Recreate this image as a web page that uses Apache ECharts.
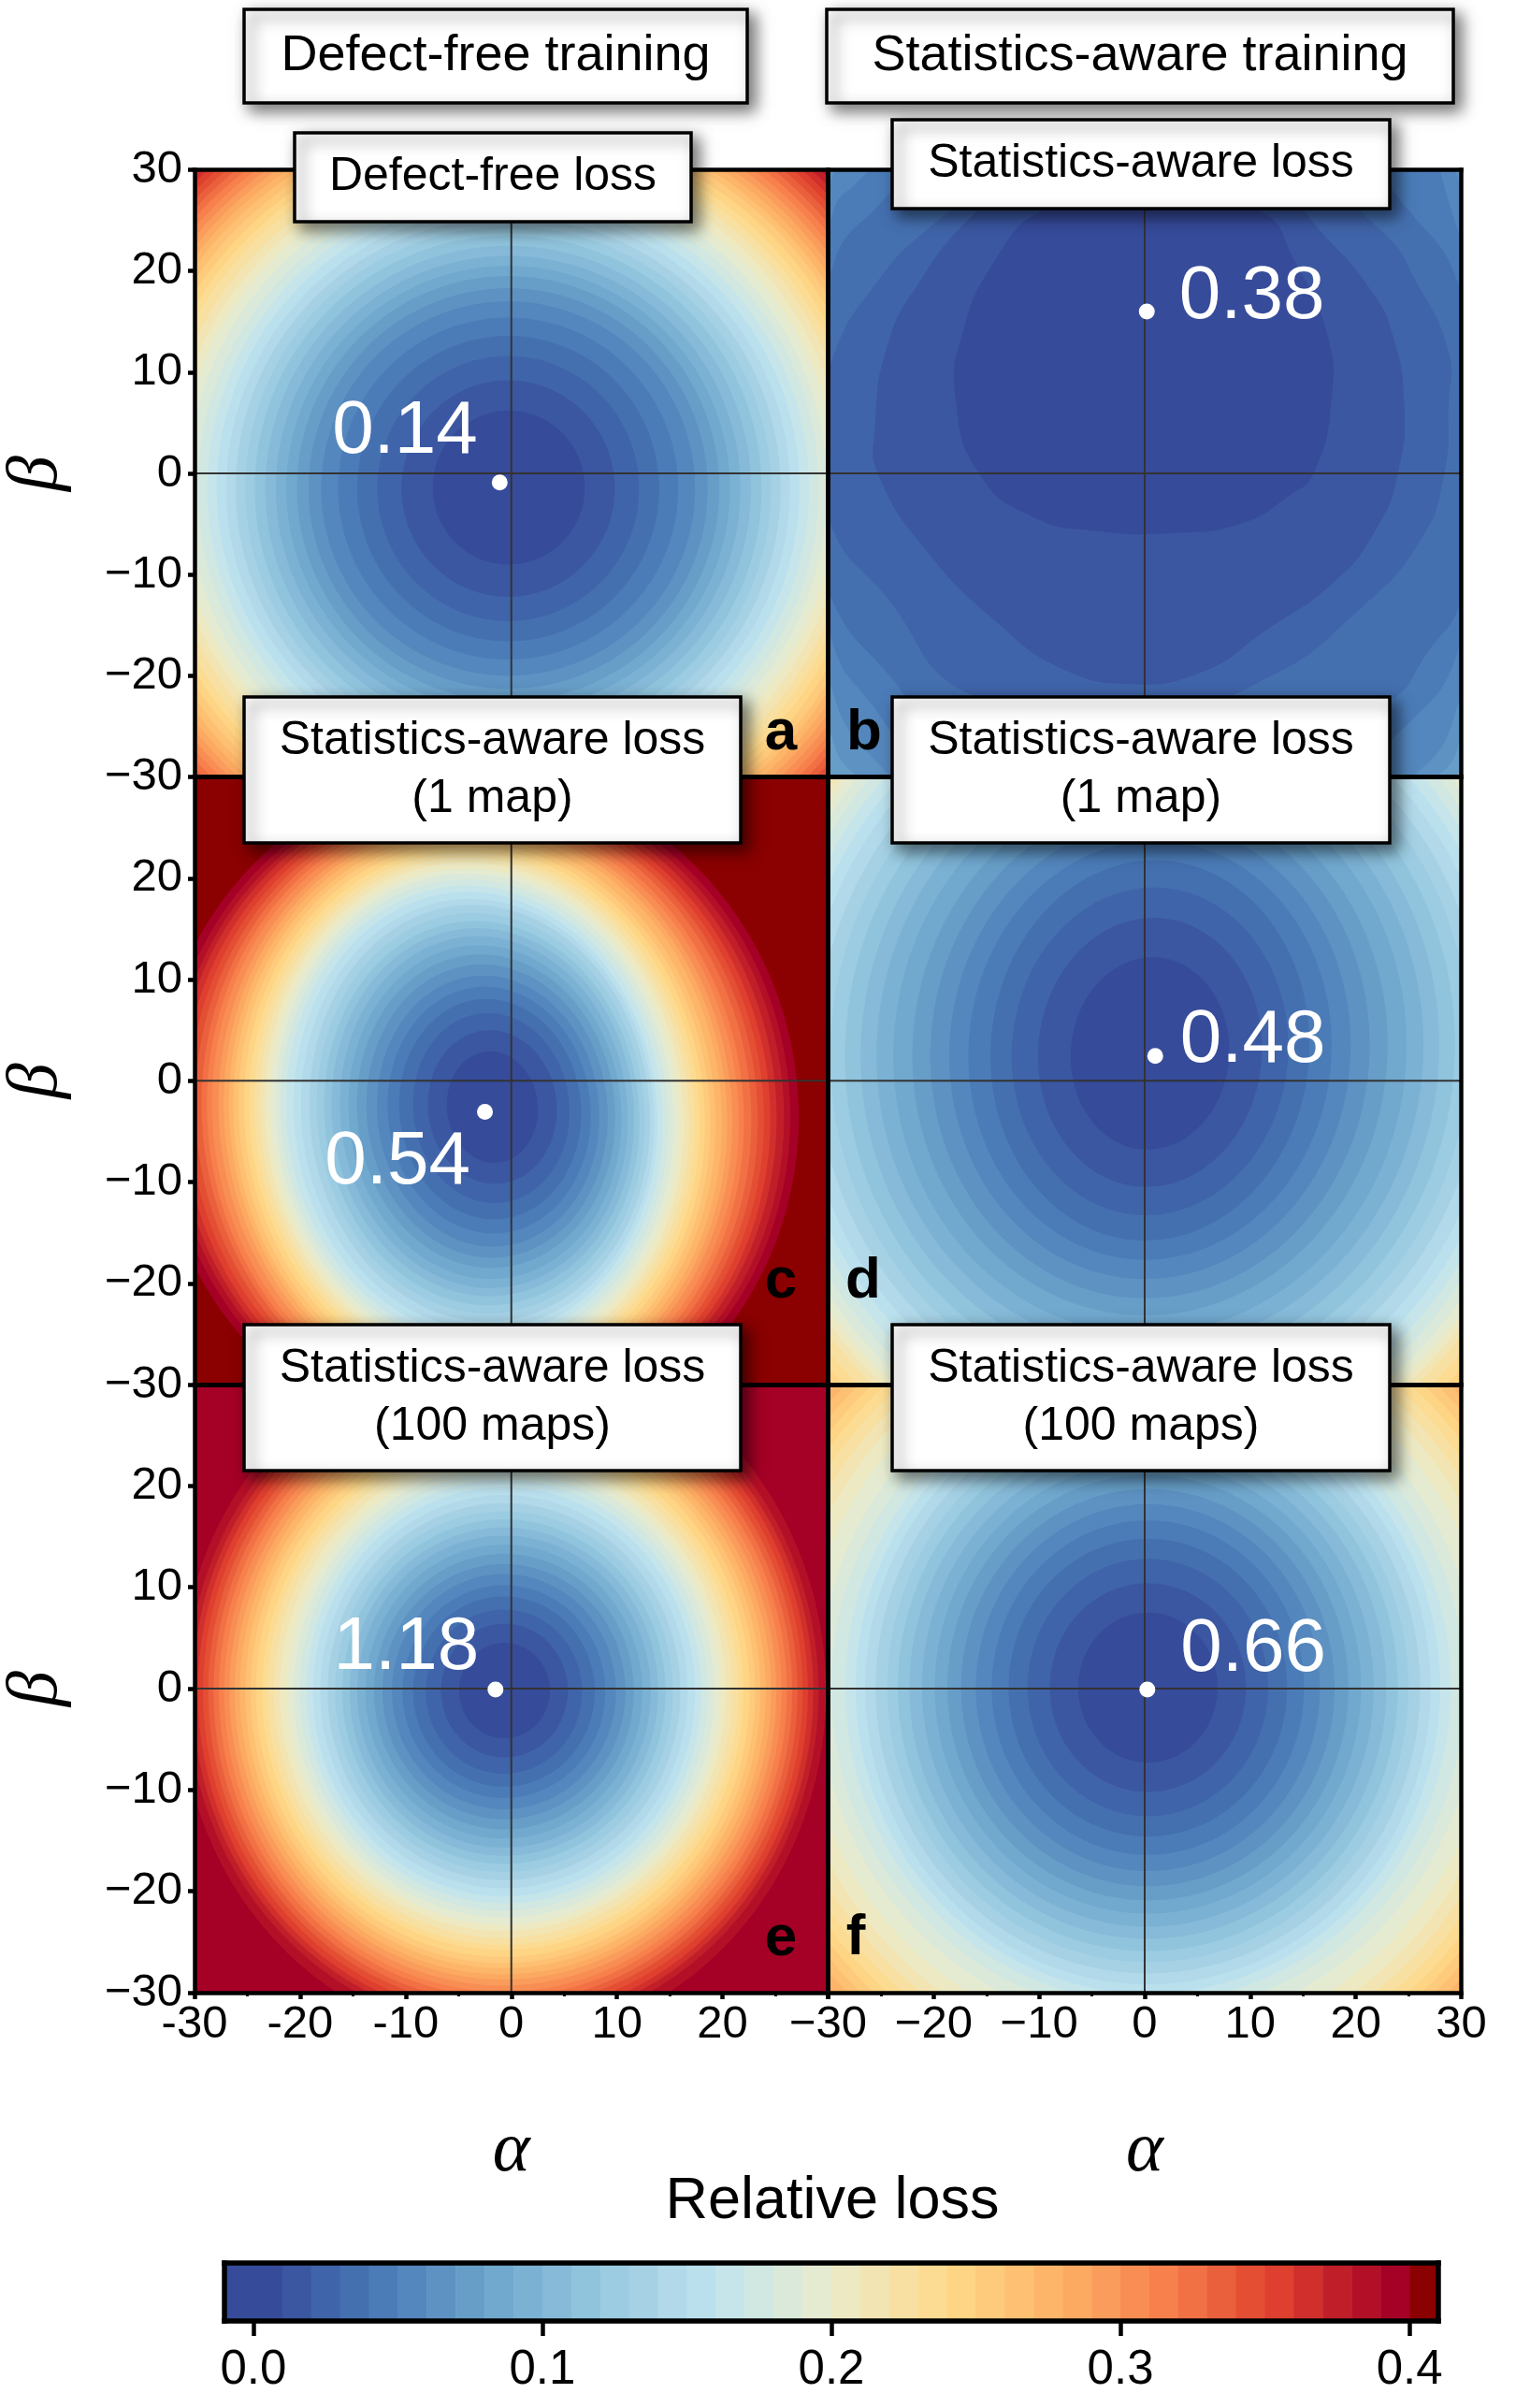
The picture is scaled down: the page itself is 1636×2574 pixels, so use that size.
<!DOCTYPE html>
<html>
<head>
<meta charset="utf-8">
<title>Relative loss landscapes</title>
<script src="https://cdn.jsdelivr.net/npm/echarts@6/dist/echarts.min.js"></script>
<style>
html, body { margin: 0; padding: 0; background: #fff; }
#main { width: 1636px; height: 2574px; }
</style>
</head>
<body>
<div id="main"></div>
<script>
// colours of the bands 0.00-0.01 ... 0.39-0.40
var bandColors = ['#364B9A','#3B57A1','#4064A9','#4570B0','#4B7CB8','#5487BD','#5D92C2','#679EC8','#70A8CE','#7BB1D3',
    '#86BAD8','#90C4DD','#9BCCE2','#A6D1E5','#B1D9E9','#BBE0ED','#C6E5EB','#D0E7E2','#DAE9DA','#E5EBD1',
    '#EDEAC3','#F2E5B3','#F7E0A2','#FCDC92','#FED485','#FECA7C','#FEC072','#FDB669','#FCAA62','#FA9C5C',
    '#F88E53','#F7804C','#F17145','#EA603D','#E44F34','#DE3F2E','#D02F2B','#C01F29','#B31028','#A50026'];
var overColor = '#8B0000';

var axisRange = [-30, 30];
var colorbarTicks = [0, 0.1, 0.2, 0.3, 0.4];
// lower edge, upper edge, colour
var colorbarEdges = [-0.01,0.01,0.02,0.03,0.04,0.05,0.06,0.07,0.08,0.09,0.10,0.11,0.12,0.13,0.14,0.15,0.16,0.17,0.18,0.19,0.20,
    0.21,0.22,0.23,0.24,0.25,0.26,0.27,0.28,0.29,0.30,0.31,0.32,0.33,0.34,0.35,0.36,0.37,0.38,0.39,0.40,0.41];

// contours: level, centre alpha, centre beta, half width, half height
var contoursA = [
    [0.01,-0.25,-1.4,7.2,7.6],[0.02,-0.3,-1.5,10.1,10.7],[0.03,-0.3,-1.5,12.4,13.1],[0.04,-0.3,-1.5,14.3,15.1],[0.05,-0.3,-1.5,16.1,16.9],
    [0.06,-0.3,-1.5,17.7,18.5],[0.07,-0.3,-1.5,18.9,19.8],[0.08,-0.3,-1.5,20,21],[0.09,-0.3,-1.5,21,22],[0.10,-0.3,-1.5,22,23],
    [0.11,-0.3,-1.5,23,24],[0.12,-0.3,-1.5,24,25],[0.13,-0.3,-1.5,24.9,25.9],[0.14,-0.3,-1.5,25.8,26.8],[0.15,-0.3,-1.5,26.7,27.7],
    [0.16,-0.3,-1.5,27.6,28.6],[0.17,-0.3,-1.5,28.5,29.5],[0.18,-0.3,-1.5,29.4,30.4],[0.19,-0.4,-1.5,30.3,31.3],[0.20,-0.4,-1.5,31.2,32.2],
    [0.21,-0.4,-1.5,32,33],[0.22,-0.4,-1.5,32.8,33.8],[0.23,-0.5,-1.5,33.6,34.6],[0.24,-0.5,-1.5,34.3,35.3],[0.25,-0.5,-1.5,35,36],
    [0.26,-0.5,-1.5,35.7,36.7],[0.27,-0.6,-1.5,36.3,37.3],[0.28,-0.6,-1.5,36.9,37.9],[0.29,-0.6,-1.5,37.5,38.5],[0.30,-0.6,-1.5,38.1,39.1],
    [0.31,-0.6,-1.5,38.7,39.7],[0.32,-0.6,-1.5,39.3,40.3],[0.33,-0.6,-1.5,39.9,40.9],[0.34,-0.6,-1.5,40.5,41.5],[0.35,-0.6,-1.5,41.1,42.1],
    [0.36,-0.6,-1.5,41.7,42.7],[0.37,-0.6,-1.5,42.3,43.3],[0.38,-0.6,-1.5,42.9,43.9],[0.39,-0.6,-1.5,43.5,44.5]
];
var contoursC = [
    [0.01,-1.8,-2.6,4.3,5.5],[0.02,-1.8,-2.6,6.1,7.6],[0.03,-1.9,-2.7,7.4,9.4],[0.04,-2,-2.8,8.6,10.9],[0.05,-2.1,-2.9,9.6,12.2],
    [0.06,-2.2,-3,10.5,13.4],[0.07,-2.3,-3,11.4,14.5],[0.08,-2.4,-3,12.2,15.5],[0.09,-2.5,-3.1,12.9,16.5],[0.10,-2.6,-3.1,13.6,17.4],
    [0.11,-2.7,-3.1,14.3,18.2],[0.12,-2.8,-3.2,14.9,19],[0.13,-2.9,-3.2,15.5,19.8],[0.14,-3,-3.2,16.1,20.6],[0.15,-3.2,-3.3,16.7,21.3],
    [0.16,-3.4,-3.3,17.2,22],[0.17,-3.5,-3.3,17.8,22.6],[0.18,-3.5,-3.3,18.3,23.2],[0.19,-3.5,-3.3,18.8,23.8],[0.20,-3.5,-3.3,19.3,24.3],
    [0.21,-3.5,-3.3,19.8,24.9],[0.22,-3.5,-3.3,20.3,25.4],[0.23,-3.5,-3.3,20.8,25.9],[0.24,-3.5,-3.3,21.3,26.4],[0.25,-3.5,-3.3,21.8,26.9],
    [0.26,-3.5,-3.3,22.3,27.4],[0.27,-3.5,-3.3,22.8,27.8],[0.28,-3.4,-3.2,23.3,28.3],[0.29,-3.4,-3.2,23.8,28.7],[0.30,-3.4,-3.2,24.3,29.1],
    [0.31,-3.4,-3.2,24.9,29.6],[0.32,-3.4,-3.2,25.4,30],[0.33,-3.3,-3.1,26,30.4],[0.34,-3.3,-3.1,26.6,30.8],[0.35,-3.3,-3.1,27.2,31.2],
    [0.36,-3.3,-3.1,27.8,31.6],[0.37,-3.3,-3,28.4,32],[0.38,-3.2,-3,29,32.4],[0.39,-3.2,-3,29.6,32.9],[0.40,-3.2,-3,30.4,33.5]
];
var contoursD = [
    [0.01,0.5,2.7,7.5,9.5],[0.02,0.5,2.8,10.6,13.3],[0.03,0.5,2.9,13.1,16.2],[0.04,0.5,3,15.1,18.8],[0.05,0.5,3,17.2,20.7],
    [0.06,0.5,3,19,22.6],[0.07,0.5,3,20.8,24.5],[0.08,0.5,3,22.5,26.2],[0.09,0.5,3,24.3,28],[0.10,0.5,3,25.9,29.6],
    [0.11,0.5,3,27.4,31.2],[0.12,0.5,3,28.9,32.8],[0.13,0.5,3,30.3,34.2],[0.14,0.5,3,31.6,35.6],[0.15,0.5,3,32.9,37],
    [0.16,0.5,3,34,38.2],[0.17,0.5,3,35,39.4],[0.18,0.5,3,36,40.5],[0.19,0.5,3,37,41.5],[0.20,0.5,3,37.8,42.4],
    [0.21,0.5,3,38.4,43.2],[0.22,0.5,3,39,44],[0.23,0.5,3,40,45],[0.24,0.5,3,41,46],[0.25,0.5,3,42,47],[0.26,0.5,3,43,48]
];
var contoursE = [
    [0.01,-0.65,-0.2,4.3,4.7],[0.02,-0.65,-0.2,6,6.6],[0.03,-0.7,-0.3,7.4,8.1],[0.04,-0.7,-0.3,8.6,9.4],[0.05,-0.7,-0.3,9.6,10.5],
    [0.06,-0.7,-0.3,10.6,11.6],[0.07,-0.7,-0.3,11.5,12.6],[0.08,-0.7,-0.3,12.3,13.6],[0.09,-0.7,-0.3,13.1,14.5],[0.10,-0.7,-0.3,13.9,15.4],
    [0.11,-0.7,-0.3,14.6,16.2],[0.12,-0.7,-0.3,15.3,17],[0.13,-0.7,-0.3,16,17.8],[0.14,-0.7,-0.3,16.7,18.6],[0.15,-0.7,-0.3,17.4,19.4],
    [0.16,-0.7,-0.3,18.1,20.2],[0.17,-0.7,-0.3,18.7,20.9],[0.18,-0.7,-0.3,19.3,21.6],[0.19,-0.7,-0.3,19.9,22.3],[0.20,-0.7,-0.3,20.5,23],
    [0.21,-0.8,-0.3,21.1,23.6],[0.22,-0.8,-0.3,21.7,24.3],[0.23,-0.8,-0.3,22.3,25],[0.24,-0.8,-0.3,22.8,25.5],[0.25,-0.8,-0.3,23.4,26.2],
    [0.26,-0.8,-0.3,23.9,26.8],[0.27,-0.8,-0.3,24.4,27.3],[0.28,-0.8,-0.3,24.9,27.9],[0.29,-0.8,-0.3,25.4,28.4],[0.30,-0.8,-0.3,25.9,29],
    [0.31,-0.8,-0.3,26.4,29.6],[0.32,-0.8,-0.3,26.9,30.1],[0.33,-0.8,-0.3,27.4,30.7],[0.34,-0.8,-0.3,27.9,31.2],[0.35,-0.8,-0.3,28.4,31.8],
    [0.36,-0.8,-0.3,28.9,32.4],[0.37,-0.8,-0.3,29.4,32.9],[0.38,-0.8,-0.3,29.9,33.5],[0.39,-0.8,-0.3,30.6,34.6]
];
var contoursF = [
    [0.01,0.3,0.1,6.6,7.4],[0.02,0.3,0.1,9.3,10.3],[0.03,0.3,0.1,11.4,12.7],[0.04,0.3,0.1,13.2,14.7],[0.05,0.3,0.1,14.8,16.5],
    [0.06,0.3,0.1,16.3,18.1],[0.07,0.3,0.1,17.7,19.6],[0.08,0.3,0.1,19,21],[0.09,0.3,0.1,20.2,22.3],[0.10,0.3,0.1,21.4,23.6],
    [0.11,0.3,0.1,22.6,24.8],[0.12,0.3,0.1,23.7,26],[0.13,0.3,0.1,24.7,27.1],[0.14,0.3,0.1,25.8,28.2],[0.15,0.3,0.1,26.8,29.3],
    [0.16,0.3,0.1,27.7,30.2],[0.17,0.3,0.1,28.7,31.1],[0.18,0.3,0.1,30,32.2],[0.19,0.3,0.1,31.2,33.6],[0.20,0.3,0.1,32.8,35.2],
    [0.21,0.3,0.1,34.2,36.6],[0.22,0.3,0.1,35.4,37.8],[0.23,0.3,0.1,36.5,38.9],[0.24,0.3,0.1,37.5,39.9],[0.25,0.3,0.1,38.4,40.8],
    [0.26,0.3,0.1,39.3,41.7],[0.27,0.3,0.1,40.2,42.6],[0.28,0.3,0.1,41.1,43.5],[0.29,0.3,0.1,42,44.4]
];
// panel b has no elliptical contours, so its outlines are read point by point
var contourLevelsB = [0.01,0.02,0.03,0.04,0.05,0.06,0.07,0.08];
var outlinesB = [
    [[-15.7,0],[-17.9,7.3],[-17.3,13.7],[-14.2,21],[-9.8,25.9],[0,29],[11,25.9],[14.2,21],[17.3,13.7],[17.7,7.3],[16,0],[13.7,-2.2],[9.3,-4.9],[2.7,-5.9],[-4.4,-5.7],[-10.6,-4.3]],
    [[-25.3,0],[-25.6,4.1],[-24.4,12.6],[-21.3,19],[-16.4,25.4],[-8,33],[8,33],[17.3,23.2],[21.5,18],[23.5,13.7],[24.6,6.8],[24,0],[22,-5.4],[18,-10.7],[11.5,-15.5],[5.3,-19.7],[-1.8,-20.8],[-8,-19.2],[-13.7,-15],[-20.8,-7.5]],
    [[-29.5,-5.7],[-31,3],[-29.5,11.6],[-25.3,19],[-20.4,24.3],[-15,28],[-5,34],[10,34],[22.6,23.8],[25.7,19],[28.8,12],[28.8,6.8],[28.4,0],[26.2,-6.5],[20.4,-13.4],[11.5,-20.3],[0,-24],[-16.4,-21.9],[-24.8,-11.8]],
    [[-29.5,-12.8],[-33,0],[-29.5,20.6],[-25.3,26.4],[-18,33],[15,36],[25,26],[30,18],[32,5],[30,-12.3],[26.6,-18],[23.4,-22.4],[10,-30],[-16,-30],[-24,-20.2]],
    [[-29.5,-17],[-34,3],[-29.5,25.9],[-27.5,28.5],[-20,35],[22,36],[30,23.2],[34,5],[30,-16.5],[25,-24.7],[10,-36],[-15,-36],[-26.2,-22.4]],
    [[-29.5,-21.8],[-35,3],[-29.5,29.6],[-24,36],[24,36],[30,28.3],[36,5],[30,-21.8],[25.3,-30],[10,-38],[-15,-38],[-25.3,-28.6]],
    [[-29.5,-26.5],[-37,3],[-32,34],[32,34],[38,3],[30,-26],[27.5,-30],[10,-40],[-15,-40],[-27.5,-29.7]],
    [[-30,-29.5],[-38,3],[-34,36],[34,36],[40,3],[30,-29],[20,-40],[-20,-40]]
];
var contoursB = contourLevelsB.map(function (l) { return [l]; });

// position of the minimum and the value printed next to it
var minimumA = [[-1.1,-0.9,'0.14']];
var minimumB = [[0.2,16,'0.38']];
var minimumC = [[-2.5,-3.07,'0.54']];
var minimumD = [[1,2.45,'0.48']];
var minimumE = [[-1.5,-0.1,'1.18']];
var minimumF = [[0.25,-0.1,'0.66']];
var crossAlpha = [[-30,0],[30,0]];
var crossBeta = [[0,-30],[0,30]];

var panels = [
    {contours: contoursA, minimum: minimumA, base: bandColors[39], tilt: 0, col: 0, row: 0, pos: 'left', dist: 15, dy: -54},
    {contours: contoursB, outlines: outlinesB, minimum: minimumB, base: bandColors[8], tilt: 0, col: 1, row: 0, pos: 'right', dist: 26, dy: -15},
    {contours: contoursC, minimum: minimumC, base: overColor, tilt: 5, col: 0, row: 1, pos: 'left', dist: 7, dy: 54},
    {contours: contoursD, minimum: minimumD, base: bandColors[26], tilt: -4, col: 1, row: 1, pos: 'right', dist: 18, dy: -16},
    {contours: contoursE, minimum: minimumE, base: bandColors[39], tilt: 0, col: 0, row: 2, pos: 'left', dist: 9, dy: -44},
    {contours: contoursF, minimum: minimumF, base: bandColors[29], tilt: 0, col: 1, row: 2, pos: 'right', dist: 27, dy: -42}
];

var sansFont = '"Liberation Sans", Arial, sans-serif';
var colEdges = [208, 885.5, 1562.5];
var rowEdges = [181.5, 830.5, 1480, 2130];
var frameWidth = 4.5;

var grids = [], xAxes = [], yAxes = [], seriesList = [];

function frameAxis(extra) {
    return Object.assign({
        type: 'value', min: axisRange[0], max: axisRange[1], z: 5,
        axisLine: {show: true, onZero: false, lineStyle: {color: '#000', width: frameWidth, cap: 'square'}},
        axisTick: {show: false}, axisLabel: {show: false}, splitLine: {show: false}
    }, extra);
}

function minusLabel(v) {
    return String(v).replace('-', '\u2212');
}

function renderContour(panel) {
    return function (params, api) {
        var row = panel.contours[params.dataIndex];
        var fill = bandColors[Math.round(row[0] * 100) - 1];
        var points;
        var smooth = 0;
        if (panel.outlines) {
            points = panel.outlines[params.dataIndex].map(function (p) { return api.coord(p); });
            smooth = 0.5;
        } else {
            var t = panel.tilt * Math.PI / 180;
            points = [];
            for (var a = 0; a < 360; a += 3) {
                var u = row[3] * Math.cos(a * Math.PI / 180);
                var v = row[4] * Math.sin(a * Math.PI / 180);
                points.push(api.coord([row[1] + u * Math.cos(t) - v * Math.sin(t), row[2] + u * Math.sin(t) + v * Math.cos(t)]));
            }
        }
        return {type: 'polygon', shape: {points: points, smooth: smooth}, style: {fill: fill}};
    };
}

panels.forEach(function (panel, i) {
    var isLeft = panel.col === 0, isBottom = panel.row === 2;
    grids.push({
        show: true, borderWidth: 0, backgroundColor: panel.base,
        left: colEdges[panel.col], width: colEdges[panel.col + 1] - colEdges[panel.col],
        top: rowEdges[panel.row], height: rowEdges[panel.row + 1] - rowEdges[panel.row]
    });
    var xi = xAxes.length, yi = yAxes.length;
    xAxes.push(frameAxis({
        gridIndex: i, position: 'bottom', interval: 10,
        name: isBottom ? '\u03b1' : '', nameLocation: 'middle', nameGap: 132,
        nameTextStyle: {fontFamily: '"Liberation Serif", serif', fontStyle: 'italic', fontSize: 76, color: '#000'},
        axisTick: {show: isBottom, length: 7, lineStyle: {width: 4.5, color: '#000'}},
        minorTick: {show: isBottom, splitNumber: 2, length: 4, lineStyle: {width: 3, color: '#000'}},
        axisLabel: {
            show: isBottom, margin: 10, fontFamily: sansFont, fontSize: 49, color: '#000',
            showMinLabel: true, showMaxLabel: !isLeft,
            formatter: isLeft ? function (v) { return String(v); } : minusLabel
        }
    }));
    xAxes.push(frameAxis({gridIndex: i, position: 'top'}));
    yAxes.push(frameAxis({
        gridIndex: i, position: 'left', interval: 10,
        name: isLeft ? '\u03b2' : '', nameLocation: 'middle', nameGap: 130, nameRotate: 90,
        nameTextStyle: {fontFamily: '"Liberation Serif", serif', fontStyle: 'italic', fontSize: 76, color: '#000'},
        axisTick: {show: isLeft, length: 7, lineStyle: {width: 4.5, color: '#000'}},
        axisLabel: {
            show: isLeft, margin: 13, fontFamily: sansFont, fontSize: 49, color: '#000',
            showMinLabel: true, showMaxLabel: panel.row === 0,
            formatter: minusLabel
        }
    }));
    yAxes.push(frameAxis({gridIndex: i, position: 'right'}));

    // biggest contour first, the smaller ones paint over it
    seriesList.push({
        type: 'custom', xAxisIndex: xi, yAxisIndex: yi, clip: true, silent: true, z: 2,
        renderItem: renderContour(panel),
        data: panel.contours.slice(),
        progressive: 0
    });
    var ordered = panel.contours.map(function (r, k) { return k; }).reverse();
    seriesList[seriesList.length - 1].renderItem = (function (draw) {
        return function (params, api) {
            return draw({dataIndex: ordered[params.dataIndex]}, api);
        };
    })(renderContour(panel));
    [crossAlpha, crossBeta].forEach(function (line) {
        seriesList.push({
            type: 'line', xAxisIndex: xi, yAxisIndex: yi, data: line, symbol: 'none', silent: true, z: 3,
            lineStyle: {color: '#333', width: 2}
        });
    });
    seriesList.push({
        type: 'scatter', xAxisIndex: xi, yAxisIndex: yi, data: panel.minimum, symbolSize: 17, silent: true, z: 4,
        itemStyle: {color: '#fff', opacity: 1},
        label: {
            show: true, position: panel.pos, distance: panel.dist, offset: [0, panel.dy],
            formatter: function (p) { return p.value[2]; },
            color: '#fff', fontFamily: sansFont, fontSize: 80
        }
    });
});

// colour bar
var cbGrid = grids.length, cbX = xAxes.length, cbY = yAxes.length;
var cbLine = {show: true, onZero: false, lineStyle: {color: '#000', width: 5.5, cap: 'square'}};
grids.push({left: 240, width: 1298, top: 2419, height: 62});
xAxes.push({
    gridIndex: cbGrid, type: 'value', position: 'bottom', min: colorbarEdges[0], max: colorbarEdges[colorbarEdges.length - 1], z: 5,
    axisLine: cbLine, splitLine: {show: false},
    axisTick: {show: true, length: 16, customValues: colorbarTicks, lineStyle: {width: 4.5, color: '#000'}},
    axisLabel: {
        show: true, margin: 27, customValues: colorbarTicks, fontFamily: sansFont, fontSize: 51, color: '#000',
        formatter: function (v) { return v.toFixed(1); }
    }
});
xAxes.push({
    gridIndex: cbGrid, type: 'value', position: 'top', min: colorbarEdges[0], max: colorbarEdges[colorbarEdges.length - 1], z: 5,
    axisLine: cbLine, axisTick: {show: false}, axisLabel: {show: false}, splitLine: {show: false}
});
['left', 'right'].forEach(function (side) {
    yAxes.push({
        gridIndex: cbGrid, type: 'value', position: side, min: 0, max: 1, z: 5,
        axisLine: cbLine, axisTick: {show: false}, axisLabel: {show: false}, splitLine: {show: false}
    });
});
seriesList.push({
    type: 'custom', xAxisIndex: cbX, yAxisIndex: cbY, clip: true, silent: true,
    data: colorbarEdges.slice(1).map(function (hi, k) { return [colorbarEdges[k], hi, k]; }),
    renderItem: function (params, api) {
        var a = api.coord([api.value(0), 0]);
        var b = api.coord([api.value(1), 1]);
        var k = api.value(2);
        return {
            type: 'rect',
            shape: {x: a[0], y: b[1], width: b[0] - a[0] + 0.5, height: a[1] - b[1]},
            style: {fill: k < bandColors.length ? bandColors[k] : overColor}
        };
    }
});

// label boxes and panel letters
var overlays = [];
function addBox(x0, y0, x1, y1, text, size, lineHeight) {
    overlays.push({
        type: 'rect', z: 100, shape: {x: x0, y: y0, width: x1 - x0, height: y1 - y0},
        style: {fill: '#fff', stroke: '#000', lineWidth: 3.5, shadowBlur: 16, shadowOffsetX: 7, shadowOffsetY: 7, shadowColor: 'rgba(0,0,0,0.55)'}
    });
    overlays.push({
        type: 'text', z: 101, x: (x0 + x1) / 2, y: (y0 + y1) / 2,
        style: {text: text, fill: '#000', font: size + 'px ' + sansFont, lineHeight: lineHeight, align: 'center', verticalAlign: 'middle'}
    });
}
function addLetter(text, x, y) {
    overlays.push({
        type: 'text', z: 99, x: x, y: y,
        style: {text: text, fill: '#000', font: 'bold 62px ' + sansFont, align: 'center', verticalAlign: 'middle'}
    });
}
addBox(261, 10, 799, 110, 'Defect-free training', 54);
addBox(884, 10, 1554, 110, 'Statistics-aware training', 54);
addBox(315, 142, 739, 237, 'Defect-free loss', 50);
addBox(954, 128, 1486, 223, 'Statistics-aware loss', 50);
addBox(261, 745, 792, 901, 'Statistics-aware loss\n(1 map)', 50, 62);
addBox(954, 745, 1486, 901, 'Statistics-aware loss\n(1 map)', 50, 62);
addBox(261, 1416, 792, 1572, 'Statistics-aware loss\n(100 maps)', 50, 62);
addBox(954, 1416, 1486, 1572, 'Statistics-aware loss\n(100 maps)', 50, 62);
addLetter('a', 835, 784);
addLetter('b', 924, 784);
addLetter('c', 835, 1370);
addLetter('d', 923, 1370);
addLetter('e', 835, 2073);
addLetter('f', 915, 2072);
overlays.push({
    type: 'text', z: 99, x: 890, y: 2354,
    style: {text: 'Relative loss', fill: '#000', font: '63px ' + sansFont, align: 'center', verticalAlign: 'middle'}
});

var myChart = echarts.init(document.getElementById('main'), null, {renderer: 'canvas'});
myChart.setOption({
    animation: false,
    backgroundColor: '#fff',
    grid: grids,
    xAxis: xAxes,
    yAxis: yAxes,
    series: seriesList,
    graphic: {elements: overlays}
});
</script>
</body>
</html>
